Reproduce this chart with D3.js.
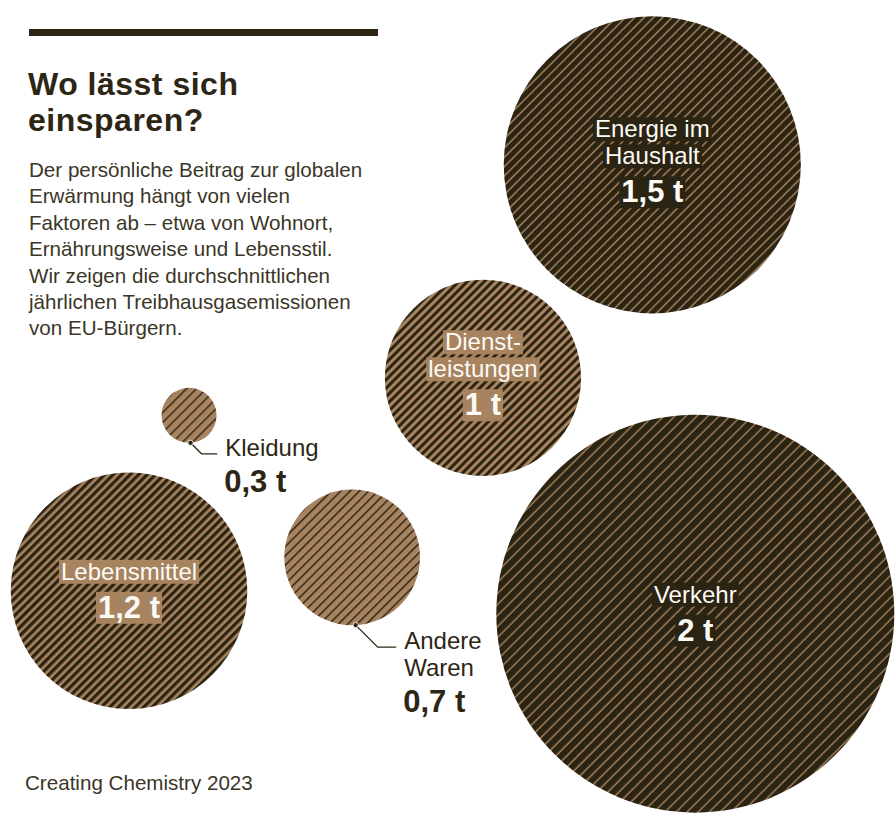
<!DOCTYPE html>
<html>
<head>
<meta charset="utf-8">
<script src="https://cdn.jsdelivr.net/npm/d3@7"></script>
<style>
  body { margin: 0; background: #fff; }
  svg { display: block; font-family: "Liberation Sans", Arial, sans-serif; }
</style>
</head>
<body>
<svg id="chart" width="896" height="816"></svg>
<script>
// data
var categories = ["Energie im Haushalt", "Dienstleistungen", "Kleidung", "Lebensmittel", "Andere Waren", "Verkehr"];
var labelLines = [["Energie im", "Haushalt"], ["Dienst-", "leistungen"], ["Kleidung"], ["Lebensmittel"], ["Andere", "Waren"], ["Verkehr"]];
var values = [1.5, 1, 0.3, 1.2, 0.7, 2];
var valueLabels = ["1,5 t", "1 t", "0,3 t", "1,2 t", "0,7 t", "2 t"];

// layout (percent of canvas) and styling, kept apart from the values
var posX = [72.8, 53.9, 21.1, 14.4, 39.3, 77.6];
var posY = [20.2, 46.3, 50.9, 72.4, 68.3, 75.2];
var labelInside = [true, true, false, true, false, true];
var darkShare = [0.78, 0.5, 0.2, 0.55, 0.22, 0.82];
var stripePeriod = [6.6, 6, 7, 6, 6.6, 7.8];
var leaderLen = [0, 0, 11, 0, 22, 0];

var titleLines = ["Wo lässt sich", "einsparen?"];
var introLines = [
    "Der persönliche Beitrag zur globalen",
    "Erwärmung hängt von vielen",
    "Faktoren ab – etwa von Wohnort,",
    "Ernährungsweise und Lebensstil.",
    "Wir zeigen die durchschnittlichen",
    "jährlichen Treibhausgasemissionen",
    "von EU-Bürgern."
];

var W = 896, H = 816;
var dark = "#2c2412", tan = "#a7835f", ink = "#2e2614", body = "#3b3627";

var svg = d3.select("#chart");

var xPos = d3.scaleLinear().domain([0, 100]).range([0, W]);
var yPos = d3.scaleLinear().domain([0, 100]).range([0, H]);
var rScale = d3.scaleLinear().domain([0.3, 2]).range([27.5, 199]);

var data = categories.map(function(c, i){
    return {
        name: c, lines: labelLines[i], value: values[i], vlabel: valueLabels[i],
        inside: labelInside[i], share: darkShare[i], period: stripePeriod[i],
        leader: leaderLen[i], cx: xPos(posX[i]), cy: yPos(posY[i]), r: rScale(values[i])
    };
});

// header
svg.append("rect")
   .attr("x", 29).attr("y", 29)
   .attr("width", 349).attr("height", 7)
   .style("fill", ink);

svg.append("g")
   .selectAll("text")
   .data(titleLines)
   .enter()
   .append("text")
   .attr("x", 28)
   .attr("y", function(d, i){ return 94.5 + i * 36 })
   .style("font-size", "32px").style("font-weight", "bold")
   .style("letter-spacing", "0.5px").style("fill", ink)
   .text(function(d){ return d });

svg.append("g")
   .selectAll("text")
   .data(introLines)
   .enter()
   .append("text")
   .attr("x", 29)
   .attr("y", function(d, i){ return 177 + i * 26.4 })
   .style("font-size", "20.6px").style("fill", body)
   .text(function(d){ return d });

svg.append("text")
   .attr("x", 25).attr("y", 790)
   .style("font-size", "20.6px").style("fill", body)
   .text("Creating Chemistry 2023");

// hatch patterns
var defs = svg.append("defs");
var pats = defs.selectAll("pattern")
               .data(data)
               .enter()
               .append("pattern")
               .attr("id", function(d, i){ return "hatch" + i })
               .attr("patternUnits", "userSpaceOnUse")
               .attr("width", function(d){ return d.period })
               .attr("height", function(d){ return d.period })
               .attr("patternTransform", "rotate(45)");
pats.append("rect")
    .attr("width", function(d){ return d.period })
    .attr("height", function(d){ return d.period })
    .style("fill", tan);
pats.append("rect")
    .attr("width", function(d){ return d.period * d.share })
    .attr("height", function(d){ return d.period })
    .style("fill", dark);

// bubbles
svg.append("g")
   .selectAll("circle")
   .data(data)
   .enter()
   .append("circle")
   .attr("cx", function(d){ return d.cx })
   .attr("cy", function(d){ return d.cy })
   .attr("r", function(d){ return d.r })
   .style("fill", function(d, i){ return "url(#hatch" + i + ")" });

// labels inside the bubbles
data.filter(function(d){ return d.inside }).forEach(function(d){
    var g = svg.append("g").attr("transform", "translate(" + d.cx + "," + d.cy + ")");
    var boxFill = d.share > 0.7 ? dark : tan;
    var n = d.lines.length;
    var y0 = -11 - 16.5 * (n - 1);
    var items = d.lines.map(function(t, i){ return { t: t, y: y0 + 27 * i, bold: false } });
    items.push({ t: d.vlabel, y: y0 + 27 * (n - 1) + 38, bold: true });

    var boxes = g.append("g");
    items.forEach(function(it){
        var txt = g.append("text")
                   .attr("x", 0).attr("y", it.y)
                   .attr("text-anchor", "middle")
                   .style("font-size", it.bold ? "31px" : "24px")
                   .style("font-weight", it.bold ? "bold" : "normal")
                   .style("fill", "#fbfaf6")
                   .text(it.t);
        var bb = txt.node().getBBox();
        var top = it.bold ? it.y - 26 : bb.y + 2;
        boxes.append("rect")
             .attr("x", bb.x - 2).attr("y", top)
             .attr("width", bb.width + 4)
             .attr("height", bb.y + bb.height - 1 - top)
             .style("fill", boxFill);
    });
});

// labels outside, with leader lines
data.filter(function(d){ return !d.inside }).forEach(function(d){
    var a = 87 * Math.PI / 180;
    var px = d.cx + d.r * Math.cos(a);
    var py = d.cy + d.r * Math.sin(a);
    var ex = px + d.leader, ey = py + d.leader;
    var hx = ex + 13 + d.leader * 0.25;

    svg.append("path")
       .attr("d", d3.line()([[px, py], [ex, ey], [hx, ey]]))
       .style("fill", "none").style("stroke", ink).style("stroke-width", 1.3);
    svg.append("circle")
       .attr("cx", px).attr("cy", py).attr("r", 2.6)
       .style("fill", ink).style("stroke", "#fff").style("stroke-width", 0.8);

    var tx = hx + 8;
    var by = ey + 2;
    d.lines.forEach(function(t, i){
        svg.append("text")
           .attr("x", tx).attr("y", by + 26.5 * i)
           .style("font-size", "24px").style("fill", ink)
           .text(t);
    });
    svg.append("text")
       .attr("x", tx - 1).attr("y", by + 26.5 * (d.lines.length - 1) + 36)
       .style("font-size", "31px").style("font-weight", "bold").style("fill", ink)
       .text(d.vlabel);
});
</script>
</body>
</html>
